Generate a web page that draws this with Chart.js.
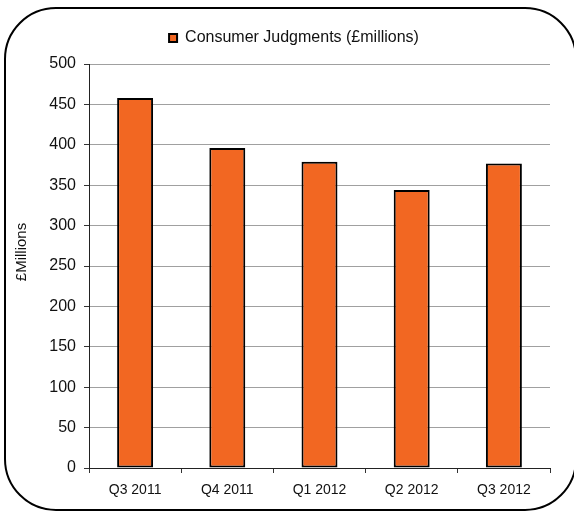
<!DOCTYPE html>
<html>
<head>
<meta charset="utf-8">
<script src="https://cdn.jsdelivr.net/npm/chart.js@4/dist/chart.umd.min.js"></script>
<style>
  html, body { margin: 0; padding: 0; background: #fff; overflow: hidden; }
  #marco {
    position: absolute; left: 4px; top: 7px;
    width: 569px; height: 500px;
    border: 2px solid #000; border-radius: 52px;
  }
  #caja { position: absolute; left: 0; top: 0; width: 574px; height: 512px; }
</style>
</head>
<body>
<div id="marco"></div>
<div id="caja"><canvas id="grafico"></canvas></div>
<script>
const trimestres = ['Q3 2011', 'Q4 2011', 'Q1 2012', 'Q2 2012', 'Q3 2012'];
const sentencias = [458, 396, 379, 344, 377];
const nombreSerie = 'Consumer Judgments (£millions)';
const tituloEje = '£Millions';

Chart.defaults.font.family = "'Liberation Sans', Arial, sans-serif";
Chart.defaults.color = '#000';

// separa un poco la leyenda del area del grafico
const huecoLeyenda = {
  id: 'huecoLeyenda',
  beforeLayout(chart) {
    const lg = chart.legend;
    if (lg && !lg._parcheado) {
      const fit = lg.fit;
      lg.fit = function () { fit.call(this); this.height += 8; };
      lg._parcheado = true;
    }
  }
};

// titulo del eje y, un poco por encima del centro como en el original
const tituloY = {
  id: 'tituloY',
  afterDraw(chart) {
    const {ctx, chartArea} = chart;
    ctx.save();
    ctx.translate(22, (chartArea.top + chartArea.bottom) / 2 - 14);
    ctx.rotate(-Math.PI / 2);
    ctx.font = "15px 'Liberation Sans', Arial, sans-serif";
    ctx.fillStyle = '#111';
    ctx.textAlign = 'center';
    ctx.textBaseline = 'middle';
    ctx.fillText(tituloEje, 0, 0);
    ctx.restore();
  }
};

document.addEventListener("DOMContentLoaded", () => {
  const lienzo = document.querySelector("#grafico");
  new Chart(lienzo, {
    type: 'bar',
    data: {
      labels: trimestres,
      datasets: [{
        label: nombreSerie,
        data: sentencias,
        backgroundColor: '#F26722',
        borderColor: '#000',
        borderWidth: 2,
        borderSkipped: false,
        barPercentage: 0.39,
        categoryPercentage: 1
      }]
    },
    options: {
      responsive: true,
      maintainAspectRatio: false,
      animation: false,
      layout: { padding: { left: 38, right: 24, top: 20, bottom: 10 } },
      plugins: {
        tooltip: { enabled: false },
        legend: {
          position: 'top',
          labels: {
            boxWidth: 8, boxHeight: 8, padding: 10,
            color: '#111',
            font: { size: 16 }
          }
        }
      },
      scales: {
        x: {
          grid: { drawOnChartArea: false, tickLength: 5, color: '#333' },
          border: { color: '#222', width: 1 },
          ticks: { padding: 9, font: { size: 14 }, color: '#111' },
          afterFit: s => { s.height = 34; }
        },
        y: {
          min: 0, max: 500,
          grid: { color: '#a0a0a0', tickLength: 5, tickColor: '#333' },
          border: { color: '#222', width: 1 },
          ticks: { stepSize: 50, padding: 8, font: { size: 16 }, color: '#111' },
          afterFit: s => { s.width = 51; }
        }
      }
    },
    plugins: [huecoLeyenda, tituloY]
  });
});
</script>
</body>
</html>
